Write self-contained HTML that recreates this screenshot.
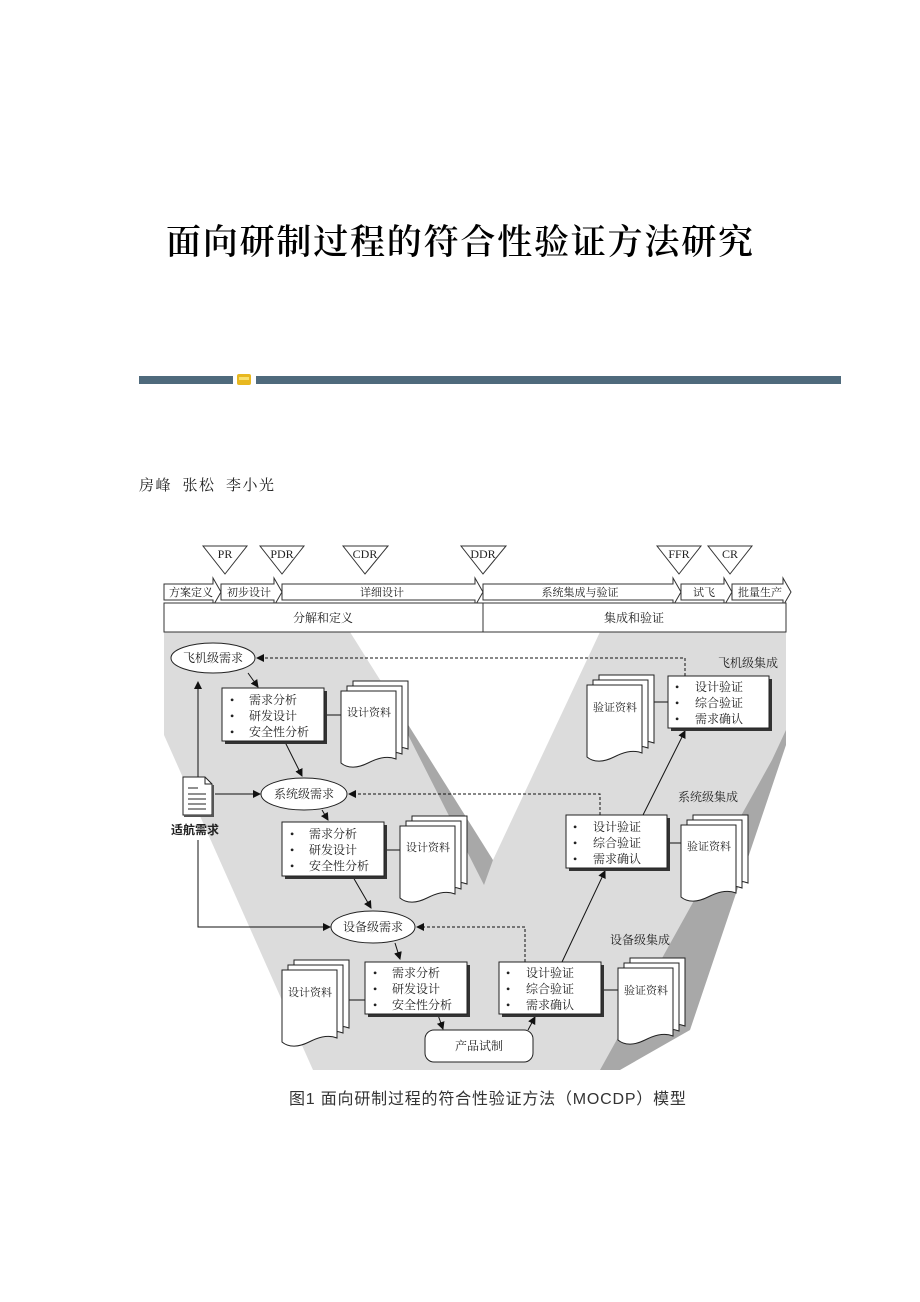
<!DOCTYPE html>
<html><head><meta charset="utf-8">
<style>
html,body{margin:0;padding:0;background:#fff;}
body{width:920px;height:1302px;position:relative;overflow:hidden;font-family:"Liberation Serif","Noto Serif CJK SC","Noto Sans CJK SC",serif;}
svg{position:absolute;left:0;top:0;}
</style></head><body>
<svg width="920" height="1302" viewBox="0 0 920 1302" xmlns="http://www.w3.org/2000/svg" font-family="'Liberation Serif','Noto Serif CJK SC',serif">
<defs>
  <marker id="ar" markerWidth="8" markerHeight="8" refX="7" refY="4" orient="auto" markerUnits="userSpaceOnUse">
    <path d="M0,0 L8,4 L0,8 Z" fill="#111"/>
  </marker>
  <g id="doc">
    <path d="M12,0 h55 v68 c-10,-4 -20,0 -28,4 c-10,5 -20,6 -27,0 Z" fill="#fff" stroke="#222" stroke-width="1"/>
    <path d="M6,5 h55 v68 c-10,-4 -20,0 -28,4 c-10,5 -20,6 -27,0 Z" fill="#fff" stroke="#222" stroke-width="1"/>
    <path d="M0,10 h55 v68 c-10,-4 -20,0 -28,4 c-10,5 -20,6 -27,0 Z" fill="#fff" stroke="#222" stroke-width="1"/>
  </g>
</defs>

<!-- title -->
<text x="166" y="254" font-size="35" letter-spacing="1.8" font-weight="600" fill="#000">面向研制过程的符合性验证方法研究</text>
<!-- divider -->
<rect x="139" y="376" width="94" height="8" fill="#4f6a7c"/>
<rect x="237" y="374" width="14" height="11" rx="2" fill="#e8b820"/>
<rect x="239" y="377" width="10" height="3" fill="#f8e070"/>
<rect x="256" y="376" width="585" height="8" fill="#4f6a7c"/>
<!-- authors -->
<text x="139" y="490" font-size="15" letter-spacing="1.5" fill="#222" xml:space="preserve">房峰  张松  李小光</text>

<!-- V background -->
<polygon points="164,632 786,632 786,735 605,1070 313,1070 164,735" fill="#dcdcdc"/>
<polygon points="786,730 786,745 690,1030 620,1070 600,1070 772,760" fill="#a8a8a8"/>
<polygon points="356,632 368,632 493,860 484,885" fill="#a8a8a8"/>
<polygon points="350,632 600,632 493,860" fill="#fff"/>

<!-- milestone triangles -->
<g fill="#fff" stroke="#333" stroke-width="1" font-size="12" text-anchor="middle">
  <polygon points="203,546 247,546 225,574"/><text x="225" y="558" stroke="none" fill="#222">PR</text>
  <polygon points="260,546 304,546 282,574"/><text x="282" y="558" stroke="none" fill="#222">PDR</text>
  <polygon points="343,546 388,546 365,574"/><text x="365" y="558" stroke="none" fill="#222">CDR</text>
  <polygon points="461,546 506,546 483,574"/><text x="483" y="558" stroke="none" fill="#222">DDR</text>
  <polygon points="657,546 701,546 679,574"/><text x="679" y="558" stroke="none" fill="#222">FFR</text>
  <polygon points="708,546 752,546 730,574"/><text x="730" y="558" stroke="none" fill="#222">CR</text>
</g>

<!-- phase arrows -->
<g fill="#fff" stroke="#333" stroke-width="1" font-size="11" text-anchor="middle">
  <path d="M164,584 H213 V578 L221,592 L213,606 V600 H164 Z"/>
  <path d="M221,584 H274 V578 L282,592 L274,606 V600 H221 Z"/>
  <path d="M282,584 H475 V578 L483,592 L475,606 V600 H282 Z"/>
  <path d="M483,584 H673 V578 L681,592 L673,606 V600 H483 Z"/>
  <path d="M681,584 H724 V578 L732,592 L724,606 V600 H681 Z"/>
  <path d="M732,584 H783 V578 L791,592 L783,606 V600 H732 Z"/>
  <g stroke="none" fill="#222">
    <text x="191" y="596">方案定义</text>
    <text x="249" y="596">初步设计</text>
    <text x="382" y="596">详细设计</text>
    <text x="580" y="596">系统集成与验证</text>
    <text x="704" y="596">试飞</text>
    <text x="760" y="596">批量生产</text>
  </g>
</g>
<rect x="164" y="603" width="319" height="29" fill="#fff" stroke="#333"/>
<rect x="483" y="603" width="303" height="29" fill="#fff" stroke="#333"/>
<text x="323" y="622" font-size="12" text-anchor="middle" fill="#222">分解和定义</text>
<text x="634" y="622" font-size="12" text-anchor="middle" fill="#222">集成和验证</text>

<!-- connectors -->
<g stroke="#111" stroke-width="1" fill="none">
  <path d="M685,676 V658 H257" stroke-dasharray="3,2" marker-end="url(#ar)"/>
  <path d="M600,815 V794 H349" stroke-dasharray="3,2" marker-end="url(#ar)"/>
  <path d="M525,962 V927 H417" stroke-dasharray="3,2" marker-end="url(#ar)"/>
  <path d="M198,777 V682" marker-end="url(#ar)"/>
  <path d="M215,794 H260" marker-end="url(#ar)"/>
  <path d="M198,840 V927 H330" marker-end="url(#ar)"/>
  <path d="M248,673 L258,687" marker-end="url(#ar)"/>
  <path d="M285,742 L302,776" marker-end="url(#ar)"/>
  <path d="M322,810 L328,820" marker-end="url(#ar)"/>
  <path d="M353,877 L371,908" marker-end="url(#ar)"/>
  <path d="M395,943 L400,959" marker-end="url(#ar)"/>
  <path d="M438,1015 L443,1029" marker-end="url(#ar)"/>
  <path d="M528,1030 L535,1017" marker-end="url(#ar)"/>
  <path d="M562,962 L605,871" marker-end="url(#ar)"/>
  <path d="M643,815 L685,731" marker-end="url(#ar)"/>
  <path d="M324,715 H342"/>
  <path d="M384,850 H402"/>
  <path d="M349,1000 H365"/>
  <path d="M601,990 H620"/>
  <path d="M667,843 H683"/>
  <path d="M650,702 H668"/>
</g>

<!-- ellipses -->
<g fill="#fff" stroke="#222" stroke-width="1" font-size="12" text-anchor="middle">
  <ellipse cx="213" cy="658" rx="42" ry="15"/><text x="213" y="662" stroke="none" fill="#222">飞机级需求</text>
  <ellipse cx="304" cy="794" rx="43" ry="16"/><text x="304" y="798" stroke="none" fill="#222">系统级需求</text>
  <ellipse cx="373" cy="927" rx="42" ry="16"/><text x="373" y="931" stroke="none" fill="#222">设备级需求</text>
</g>

<!-- boxes -->
<g font-size="12" fill="#222">
  <rect x="225" y="691" width="102" height="53" fill="#333"/>
  <rect x="222" y="688" width="102" height="53" fill="#fff" stroke="#222"/>
  <text x="230" y="704">•</text><text x="249" y="704">需求分析</text>
  <text x="230" y="720">•</text><text x="249" y="720">研发设计</text>
  <text x="230" y="736">•</text><text x="249" y="736">安全性分析</text>

  <rect x="285" y="825" width="102" height="54" fill="#333"/>
  <rect x="282" y="822" width="102" height="54" fill="#fff" stroke="#222"/>
  <text x="290" y="838">•</text><text x="309" y="838">需求分析</text>
  <text x="290" y="854">•</text><text x="309" y="854">研发设计</text>
  <text x="290" y="870">•</text><text x="309" y="870">安全性分析</text>

  <rect x="368" y="965" width="102" height="52" fill="#333"/>
  <rect x="365" y="962" width="102" height="52" fill="#fff" stroke="#222"/>
  <text x="373" y="977">•</text><text x="392" y="977">需求分析</text>
  <text x="373" y="993">•</text><text x="392" y="993">研发设计</text>
  <text x="373" y="1009">•</text><text x="392" y="1009">安全性分析</text>

  <rect x="502" y="965" width="102" height="52" fill="#333"/>
  <rect x="499" y="962" width="102" height="52" fill="#fff" stroke="#222"/>
  <text x="506" y="977">•</text><text x="526" y="977">设计验证</text>
  <text x="506" y="993">•</text><text x="526" y="993">综合验证</text>
  <text x="506" y="1009">•</text><text x="526" y="1009">需求确认</text>

  <rect x="569" y="818" width="101" height="53" fill="#333"/>
  <rect x="566" y="815" width="101" height="53" fill="#fff" stroke="#222"/>
  <text x="573" y="831">•</text><text x="593" y="831">设计验证</text>
  <text x="573" y="847">•</text><text x="593" y="847">综合验证</text>
  <text x="573" y="863">•</text><text x="593" y="863">需求确认</text>

  <rect x="671" y="679" width="101" height="52" fill="#333"/>
  <rect x="668" y="676" width="101" height="52" fill="#fff" stroke="#222"/>
  <text x="675" y="691">•</text><text x="695" y="691">设计验证</text>
  <text x="675" y="707">•</text><text x="695" y="707">综合验证</text>
  <text x="675" y="723">•</text><text x="695" y="723">需求确认</text>
</g>

<!-- product -->
<rect x="425" y="1030" width="108" height="32" rx="9" fill="#fff" stroke="#222"/>
<text x="479" y="1050" font-size="12" text-anchor="middle" fill="#222">产品试制</text>

<!-- doc stacks -->
<use href="#doc" x="341" y="681"/>
<use href="#doc" x="400" y="816"/>
<use href="#doc" x="282" y="960"/>
<use href="#doc" x="618" y="958"/>
<use href="#doc" x="681" y="815"/>
<use href="#doc" x="587" y="675"/>
<g font-size="11" text-anchor="middle" fill="#222">
  <text x="369" y="716">设计资料</text>
  <text x="428" y="851">设计资料</text>
  <text x="310" y="996">设计资料</text>
  <text x="646" y="994">验证资料</text>
  <text x="709" y="850">验证资料</text>
  <text x="615" y="711">验证资料</text>
</g>
<g font-size="12" text-anchor="middle" fill="#222">
  <text x="748" y="667">飞机级集成</text>
  <text x="708" y="801">系统级集成</text>
  <text x="640" y="944">设备级集成</text>
</g>

<!-- 适航需求 icon -->
<path d="M183,777 H205 L212,784 V815 H183 Z" fill="#fff" stroke="#222"/>
<path d="M205,777 V784 H212" fill="none" stroke="#222"/>
<path d="M184,816 H213 V785" fill="none" stroke="#555" stroke-width="2"/>
<g stroke="#222" stroke-width="1">
  <line x1="188" y1="788" x2="198" y2="788"/>
  <line x1="188" y1="794" x2="206" y2="794"/>
  <line x1="188" y1="799" x2="206" y2="799"/>
  <line x1="188" y1="804" x2="206" y2="804"/>
  <line x1="188" y1="809" x2="206" y2="809"/>
</g>
<text x="195" y="834" font-size="12" font-weight="bold" text-anchor="middle" fill="#222" font-family="'Liberation Sans','Noto Sans CJK SC',sans-serif">适航需求</text>

<!-- caption -->
<text x="289" y="1104" font-size="16" letter-spacing="0.8" fill="#333" font-family="'Liberation Sans','Noto Sans CJK SC',sans-serif">图1  面向研制过程的符合性验证方法（MOCDP）模型</text>
</svg>
</body></html>
